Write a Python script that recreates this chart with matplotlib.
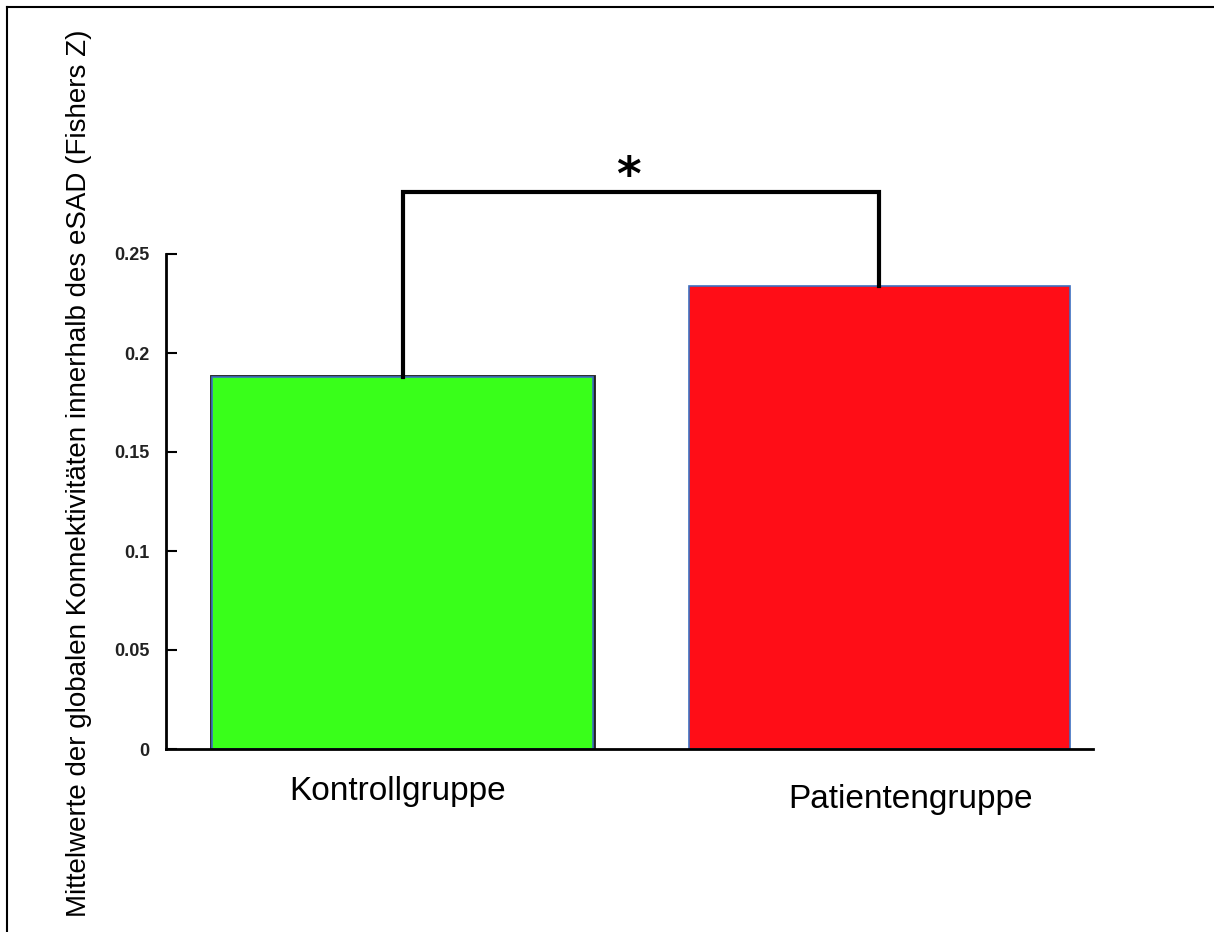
import matplotlib
matplotlib.use("Agg")
import matplotlib.pyplot as plt
from matplotlib.lines import Line2D

groups = ["Kontrollgruppe", "Patientengruppe"]
means = [0.188, 0.234]
colors = ["#39ff1a", "#ff0d17"]
yticks = [0, 0.05, 0.1, 0.15, 0.2, 0.25]
ytick_labels = ["0", "0.05", "0.1", "0.15", "0.2", "0.25"]
sig_label = "*"

font = ["Liberation Sans", "DejaVu Sans"]

fig = plt.figure(figsize=(12.14, 9.32), dpi=100)
ax = fig.add_axes([166 / 1214, 1 - 749 / 932, (1093 - 166) / 1214, (749 - 254) / 932])

xs = [1, 2]
# dark outline underneath the blue edge, as in the original
ax.bar(xs[0], means[0], width=0.8, color=colors[0], edgecolor="#222222", linewidth=3.5)
ax.bar(xs, means, width=0.8, color=colors, edgecolor="#3d6fc0", linewidth=1.2)

ax.set_xlim(0.504, 2.448)
ax.set_ylim(0, 0.25)
ax.set_yticks(yticks)
ax.set_yticklabels(ytick_labels, family=font, fontsize=13, fontweight="bold", color="#222222")
ax.tick_params(axis="y", direction="in", length=8, width=1.5, pad=12)
ax.set_xticks([])
for s in ["top", "right"]:
    ax.spines[s].set_visible(False)
ax.spines["left"].set_linewidth(2)
ax.spines["bottom"].set_linewidth(2)

# category labels
ax.text(0.99, -0.0135, groups[0], ha="center", va="top", fontsize=24, family=font)
ax.text(2.065, -0.0175, groups[1], ha="center", va="top", fontsize=24, family=font)

# significance bracket
top = 0.2813
ax.plot([xs[0], xs[0], xs[1], xs[1]], [means[0], top, top, means[1]],
        color="black", lw=3, clip_on=False, solid_joinstyle="miter")
ax.text(1.473, 0.2775, sig_label, ha="center", va="bottom", fontsize=34,
        fontweight="bold", clip_on=False)

ax.set_ylabel("Mittelwerte der globalen Konnektivitäten innerhalb des eSAD (Fishers Z)",
              family=font, fontsize=20)
ax.yaxis.set_label_coords(-74 / 927, 1 - (473 - 254) / 495)

# partial frame around the figure (left and top)
fig.add_artist(Line2D([7 / 1214, 7 / 1214], [0, 1 - 7 / 932], color="black", lw=1.5))
fig.add_artist(Line2D([7 / 1214, 1], [1 - 7 / 932, 1 - 7 / 932], color="black", lw=1.5))

fig.savefig("out.png", dpi=100)
